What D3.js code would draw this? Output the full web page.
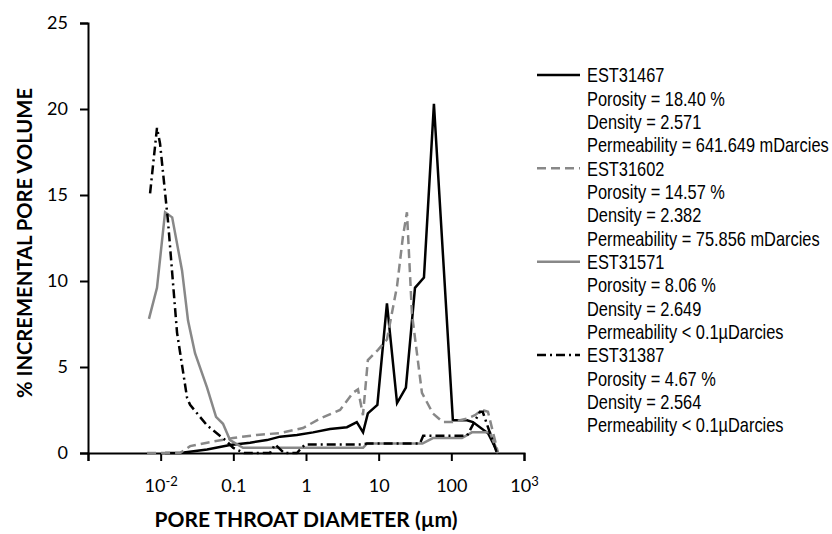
<!DOCTYPE html>
<html>
<head>
<meta charset="utf-8">
<script src="https://cdn.jsdelivr.net/npm/d3@7"></script>
<style>
  body { margin: 0; background: #fff; }
  .tick text { font-family: Lato, "Open Sans", sans-serif; font-size: 18px; fill: #000; }
  .axis-title { font-family: Lato, "Open Sans", sans-serif; font-weight: bold; font-size: 20px; }
  .legend text { font-family: "Liberation Sans", Arial, sans-serif; font-size: 20px; }
</style>
</head>
<body>
<div id="chart"></div>
<script>
// Chart Params
var svgWidth = 832;
var svgHeight = 534;

var margin = { top: 23, right: 308, bottom: 81, left: 88 };

var width = svgWidth - margin.left - margin.right;
var height = svgHeight - margin.top - margin.bottom;

// Data: pore throat diameter (µm) and incremental pore volume (%)
var d31467 = [0.0115, 0.0185, 0.0435, 0.09, 0.17, 0.29, 0.44, 0.75, 1.25, 2.14, 3.66, 5.0, 6.1, 7.1, 9.6, 13.0, 17.9, 23.7, 31.6, 42, 57.6, 105, 164, 198, 320, 438];
var v31467 = [0, 0, 0.2, 0.47, 0.6, 0.75, 0.95, 1.05, 1.2, 1.4, 1.5, 1.8, 1.2, 2.3, 2.8, 8.7, 2.9, 3.8, 9.6, 10.2, 20.3, 1.9, 1.9, 1.8, 1.15, 0];

var d31602 = [0.0065, 0.0185, 0.0254, 0.0435, 0.099, 0.21, 0.44, 0.91, 1.56, 2.94, 4.43, 5.19, 6.08, 7.1, 9.8, 13.0, 17.9, 21.6, 24.5, 28.7, 39.4, 55.8, 76.6, 105, 164, 211, 264, 319, 398, 438];
var v31602 = [0, 0, 0.4, 0.6, 0.87, 1.05, 1.16, 1.45, 2.0, 2.5, 3.5, 3.7, 2.2, 5.4, 6.0, 6.6, 9.7, 12.6, 14.0, 8.1, 3.5, 2.3, 1.8, 1.8, 2.0, 2.2, 2.5, 2.4, 0.75, 0];

var d31571 = [0.0069, 0.0089, 0.0115, 0.0144, 0.0197, 0.0238, 0.0297, 0.0435, 0.0578, 0.0721, 0.09, 0.136, 6.1, 6.9, 40, 55.8, 140, 192, 340, 438];
var v31571 = [7.8, 9.6, 14.0, 13.7, 10.6, 7.7, 5.8, 3.8, 2.1, 1.7, 0.75, 0.3, 0.3, 0.55, 0.55, 0.87, 0.87, 1.2, 1.2, 0];

var d31387 = [0.00715, 0.0089, 0.0098, 0.0126, 0.0168, 0.0231, 0.0254, 0.0435, 0.075, 0.1, 0.14, 0.32, 0.375, 0.5, 0.75, 0.97, 6.1, 6.9, 37, 41, 164, 247, 270, 424];
var v31387 = [15.1, 18.9, 18.0, 13.5, 7.0, 3.2, 2.8, 1.6, 0.8, 0.3, 0, 0, 0.5, 0, 0, 0.5, 0.5, 0.55, 0.55, 1.0, 1.0, 2.4, 2.4, 0];

var sampleNames = ["EST31467", "EST31602", "EST31571", "EST31387"];
var porosity = ["18.40 %", "14.57 %", "8.06 %", "4.67 %"];
var density = ["2.571", "2.382", "2.649", "2.564"];
var permeability = ["= 641.649 mDarcies", "= 75.856 mDarcies", "< 0.1\u00b5Darcies", "< 0.1\u00b5Darcies"];

var xTicks = [0.001, 0.01, 0.1, 1, 10, 100, 1000];
var xTickLabels = [["", ""], ["10", "-2"], ["0.1", ""], ["1", ""], ["10", ""], ["100", ""], ["10", "3"]];
var yTicks = [0, 5, 10, 15, 20, 25];

// line styles per sample
var colors = ["#000", "#888", "#888", "#000"];
var dashes = [null, "9,5", null, "9,4,2,4"];

var series = [
  { x: d31467, y: v31467 },
  { x: d31602, y: v31602 },
  { x: d31571, y: v31571 },
  { x: d31387, y: v31387 }
];

var svg = d3.select("#chart")
  .append("svg")
  .attr("width", svgWidth)
  .attr("height", svgHeight);

var chartGroup = svg.append("g")
  .attr("transform", `translate(${margin.left}, ${margin.top})`);

// scales
var xScale = d3.scaleLog()
  .domain([0.001, 1000])
  .range([0, width]);

var yScale = d3.scaleLinear()
  .domain([0, 25])
  .range([height, 0]);

// axes
var bottomAxis = d3.axisBottom(xScale)
  .tickValues(xTicks)
  .tickSize(8)
  .tickPadding(18)
  .tickFormat("");

var leftAxis = d3.axisLeft(yScale)
  .tickValues(yTicks)
  .tickSize(8)
  .tickPadding(12);

var xAxisG = chartGroup.append("g")
  .attr("transform", `translate(0, ${height})`)
  .call(bottomAxis);

var yAxisG = chartGroup.append("g")
  .call(leftAxis);

[xAxisG, yAxisG].forEach(function(g) {
  g.select(".domain").attr("stroke", "#000").attr("stroke-width", 2);
  g.selectAll(".tick line").attr("stroke", "#000").attr("stroke-width", 2);
});

// x tick labels with superscripts
xAxisG.selectAll(".tick text").each(function(d, i) {
  var t = d3.select(this);
  t.text(null);
  t.append("tspan").text(xTickLabels[i][0]);
  if (xTickLabels[i][1]) {
    t.append("tspan")
      .attr("dy", "-0.45em")
      .style("font-size", "13px")
      .text(xTickLabels[i][1]);
  }
});

// lines
var line = d3.line()
  .x(d => xScale(d[0]))
  .y(d => yScale(d[1]));

series.forEach(function(s, i) {
  chartGroup.append("path")
    .datum(s.x.map((x, j) => [x, s.y[j]]))
    .attr("d", line)
    .attr("fill", "none")
    .attr("stroke", colors[i])
    .attr("stroke-width", 2.5)
    .attr("stroke-dasharray", dashes[i]);
});

// axis titles
svg.append("text")
  .classed("axis-title", true)
  .attr("text-anchor", "middle")
  .attr("transform", "translate(32, 243)rotate(-90)")
  .attr("textLength", 310)
  .attr("lengthAdjust", "spacingAndGlyphs")
  .text("% INCREMENTAL PORE VOLUME");

svg.append("text")
  .classed("axis-title", true)
  .attr("text-anchor", "middle")
  .attr("x", margin.left + width / 2)
  .attr("y", 527)
  .attr("textLength", 303)
  .attr("lengthAdjust", "spacingAndGlyphs")
  .text("PORE THROAT DIAMETER (\u00b5m)");

// legend (narrow text, squeezed horizontally)
var legend = svg.append("g").classed("legend", true);
var lineGap = 23.33;

sampleNames.forEach(function(name, i) {
  var y0 = 75 + i * 4 * lineGap;
  legend.append("line")
    .attr("x1", 537).attr("x2", 580)
    .attr("y1", y0).attr("y2", y0)
    .attr("stroke", colors[i])
    .attr("stroke-width", 2.5)
    .attr("stroke-dasharray", dashes[i]);

  var rows = [name, "Porosity = " + porosity[i], "Density = " + density[i], "Permeability " + permeability[i]];
  rows.forEach(function(r, k) {
    legend.append("text")
      .attr("transform", `translate(587, ${y0 + k * lineGap})scale(0.82, 1)`)
      .attr("dy", "0.36em")
      .text(r);
  });
});
</script>
</body>
</html>
